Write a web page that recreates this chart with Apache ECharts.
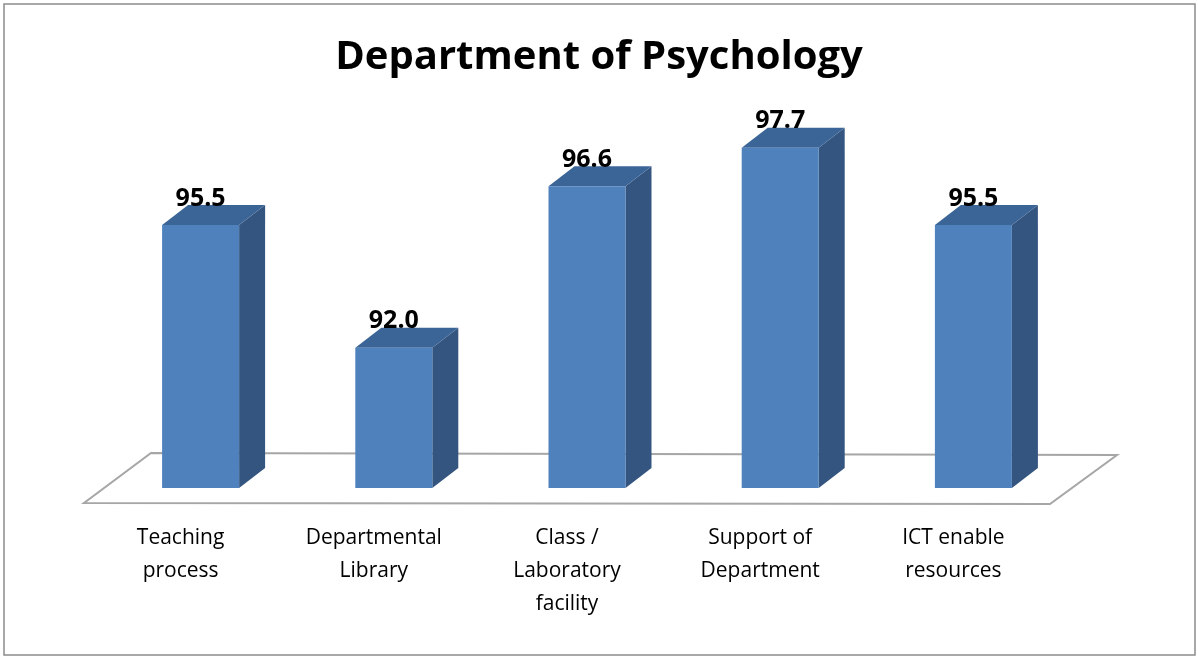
<!DOCTYPE html>
<html>
<head>
<meta charset="utf-8">
<style>
  html, body { margin: 0; padding: 0; background: #fff; }
  #chart { width: 1198px; height: 658px; }
</style>
<script src="https://cdn.jsdelivr.net/npm/echarts@6/dist/echarts.min.js"></script>
</head>
<body>
<div id="chart"></div>
<script>
// categories and scores
var categories = ['Teaching\nprocess', 'Departmental\nLibrary', 'Class /\nLaboratory\nfacility', 'Support of\nDepartment', 'ICT enable\nresources'];
var scores = [95.5, 92.0, 96.6, 97.7, 95.5];

var AXIS_MIN = 88;
var BAR_W = 77, SHIFT = 20;      // bar front face sits a bit behind the floor edge
var DEPTH_X = 26, DEPTH_Y = 20;  // 3d bar depth
var chart = echarts.init(document.getElementById('chart'));

function renderBar(params, api) {
    var idx = api.value(0);
    var top = api.coord([idx, api.value(1)]);
    var base = api.coord([idx, AXIS_MIN]);
    var x0 = top[0] + SHIFT - BAR_W / 2, x1 = x0 + BAR_W;
    var yt = top[1], yb = base[1];
    return {
        type: 'group',
        children: [
            { type: 'polygon', shape: { points: [[x1, yt], [x1 + DEPTH_X, yt - DEPTH_Y], [x1 + DEPTH_X, yb - DEPTH_Y], [x1, yb]] },
              style: { fill: '#34557f' } },
            { type: 'polygon', shape: { points: [[x0, yt], [x1, yt], [x1 + DEPTH_X, yt - DEPTH_Y], [x0 + DEPTH_X, yt - DEPTH_Y]] },
              style: { fill: '#3c6597' } },
            { type: 'rect', shape: { x: x0, y: yt, width: BAR_W, height: yb - yt },
              style: { fill: '#4f81bd' } },
            { type: 'text', x: x0 + BAR_W / 2, y: yt - DEPTH_Y + 6,
              style: { text: api.value(1).toFixed(1), align: 'center', verticalAlign: 'bottom',
                       fontFamily: 'Open Sans', fontWeight: 'bold', fontSize: 25, fill: '#000' } }
        ]
    };
}

function renderFloor(params, api) {
    var cs = params.coordSys;
    var base = cs.y + cs.height;
    var l = cs.x, r = cs.x + cs.width;
    return {
        type: 'polygon',
        shape: { points: [[l, base + 15], [r, base + 16], [r + 67, base - 33], [l + 67, base - 35]] },
        style: { fill: '#fff', stroke: '#a6a6a6', lineWidth: 2 }
    };
}

chart.setOption({
    animation: false,
    title: {
        text: 'Department of Psychology',
        left: 'center', top: 33,
        textStyle: { fontFamily: 'Open Sans', fontWeight: 'bold', fontSize: 40, color: '#000' }
    },
    graphic: [{
        type: 'rect', shape: { x: 4, y: 4, width: 1191, height: 651 },
        style: { fill: null, stroke: '#8c8c8c', lineWidth: 1.5 }, z: -10
    }],
    grid: { left: 84, right: 148, top: 67, bottom: 170 },
    xAxis: {
        type: 'category',
        data: categories,
        axisLine: { show: false },
        axisTick: { show: false },
        axisLabel: {
            margin: 34, interval: 0,
            fontFamily: 'Open Sans', fontSize: 21, lineHeight: 33, color: '#000'
        }
    },
    yAxis: { type: 'value', min: AXIS_MIN, max: 100, show: false, splitLine: { show: false } },
    series: [
        { type: 'custom', data: [0], renderItem: renderFloor, z: 1, silent: true },
        { type: 'custom', data: scores.map(function (v, i) { return [i, v]; }),
          encode: { x: 0, y: 1 }, renderItem: renderBar, z: 2 }
    ]
});
</script>
</body>
</html>
